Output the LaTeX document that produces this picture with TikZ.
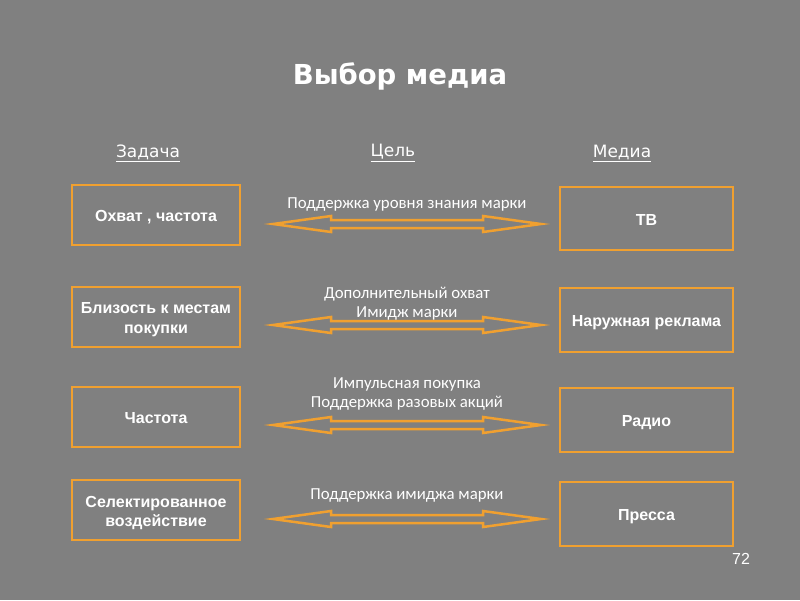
\documentclass[tikz,border=0pt]{standalone}
\usepackage{fontspec}
\setmainfont{Liberation Sans}
\newfontfamily\titlefont{DejaVu Sans}
\newfontfamily\midfont{Carlito}
\definecolor{bg}{HTML}{808080}
\definecolor{org}{HTML}{F0A030}
\newcommand{\bt}[1]{\raisebox{-3pt}[\height][\depth]{\begin{tabular}{@{}c@{}}#1\end{tabular}}}
\tikzset{
  box/.style={draw=org, line width=2pt, minimum width=168pt, minimum height=60pt, align=center, text=white, font=\fontsize{16}{19.5}\selectfont\bfseries, inner sep=0pt},
  hdr/.style={text=white, font=\titlefont\fontsize{17}{20}\selectfont},
  mid/.style={text=white, font=\midfont\fontsize{16.8}{19}\selectfont, align=center},
  dblarrow/.style={draw=org, line width=2.5pt, line join=miter}
}
\newcommand{\dArrow}[3]{% left coord name, right coord name, y
  \draw[dblarrow] (#1) -- ++(58,-8) -- ++(0,4) -- (483,#3-4) -- ++(0,-4) -- (#2) -- (483,#3+8) -- ++(0,-4) -- (331,#3+4) -- ++(0,4) -- cycle;
}
\begin{document}
\begin{tikzpicture}[x=1pt,y=-1pt]
\fill[bg] (0,0) rectangle (800,600);
\useasboundingbox (0,0) rectangle (800,600);
\node[text=white, font=\titlefont\fontsize{27.5}{32}\selectfont\bfseries] (title) at (400,76) {Выбор медиа};
\node[hdr] (h1) at (148,153) {\underline{Задача}};
\node[hdr] (h2) at (393,153) {\underline{Цель}};
\node[hdr] (h3) at (622,153) {\underline{Медиа}};

\node[box] (l1) at (156,215) {\bt{Охват , частота}};
\node[box] (l2) at (156,316.5) {\bt{Близость к местам\\покупки}};
\node[box] (l3) at (156,416.5) {\bt{Частота}};
\node[box] (l4) at (156,510) {\bt{Селектированное\\воздействие}};

\node[box, minimum width=173pt, minimum height=63pt] (r1) at (646.5,218.5) {\bt{ТВ}};
\node[box, minimum width=173pt, minimum height=64pt] (r2) at (646.5,320) {\bt{Наружная реклама}};
\node[box, minimum width=173pt, minimum height=64pt] (r3) at (646.5,420) {\bt{Радио}};
\node[box, minimum width=173pt, minimum height=64pt] (r4) at (646.5,514) {\bt{Пресса}};

\node[mid] (m1) at (407,204) {Поддержка уровня знания марки};
\node[mid] (m2) at (407,304) {Дополнительный охват\\Имидж марки};
\node[mid] (m3) at (407,394) {Импульсная покупка\\Поддержка разовых акций};
\node[mid] (m4) at (407,495) {Поддержка имиджа марки};

\coordinate (a1l) at (273,224); \coordinate (a1r) at (541,224);
\coordinate (a2l) at (273,325); \coordinate (a2r) at (541,325);
\coordinate (a3l) at (273,425); \coordinate (a3r) at (541,425);
\coordinate (a4l) at (273,519); \coordinate (a4r) at (541,519);
\dArrow{a1l}{a1r}{224}
\dArrow{a2l}{a2r}{325}
\dArrow{a3l}{a3r}{425}
\dArrow{a4l}{a4r}{519}

\node[text=white, font=\fontsize{16}{19}\selectfont] (pg) at (741,559) {72};
\end{tikzpicture}
\end{document}
